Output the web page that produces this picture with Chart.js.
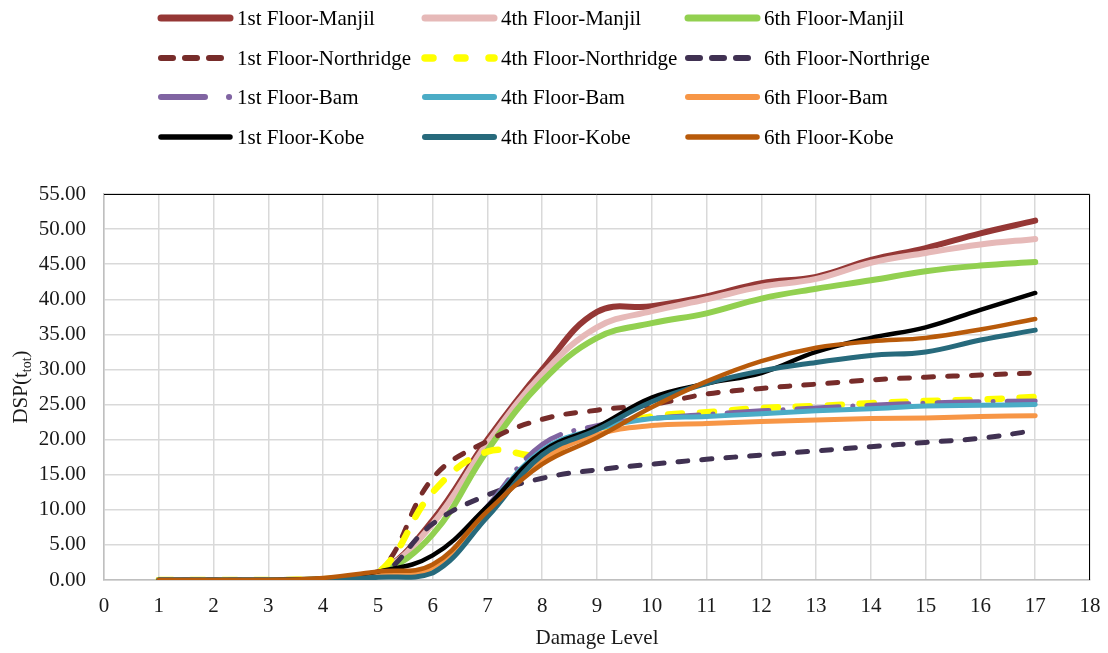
<!DOCTYPE html>
<html>
<head>
<meta charset="utf-8">
<script src="https://cdn.jsdelivr.net/npm/chart.js@4.4.1/dist/chart.umd.min.js"></script>
<style>
  html, body { margin: 0; padding: 0; background: #fff; }
  #zone { width: 1108px; height: 653px; }
</style>
</head>
<body>
<div id="zone"><canvas id="graphique" width="1108" height="653"></canvas></div>
<script>
// Niveaux de dommage (axe X)
const niveaux = [1, 2, 3, 4, 5, 6, 7, 8, 9, 10, 11, 12, 13, 14, 15, 16, 17];

// Valeurs DSP(t_tot) par séisme et par étage
const manjil1 = [0, 0, 0, 0.1, 1.0, 8.5, 20.0, 30.0, 38.2, 39.0, 40.4, 42.3, 43.2, 45.6, 47.3, 49.4, 51.2];
const manjil4 = [0, 0, 0, 0.1, 1.0, 8.0, 19.5, 29.3, 36.0, 38.3, 40.0, 41.8, 42.9, 45.2, 46.6, 47.8, 48.6];
const manjil6 = [0, 0, 0, 0.1, 0.9, 6.5, 18.5, 28.3, 34.5, 36.6, 38.0, 40.1, 41.5, 42.7, 44.0, 44.8, 45.3];

const northridge1 = [0, 0, 0, 0.1, 1.0, 14.5, 19.8, 22.9, 24.2, 25.0, 26.5, 27.3, 27.9, 28.5, 28.9, 29.2, 29.5];
const northridge4 = [0, 0, 0, 0.1, 1.0, 12.5, 18.3, 17.8, 21.3, 23.3, 23.9, 24.5, 24.8, 25.2, 25.5, 25.7, 26.1];
const northridge6 = [0, 0, 0, 0.05, 0.5, 8.0, 12.1, 14.5, 15.7, 16.5, 17.2, 17.8, 18.4, 19.0, 19.6, 20.2, 21.3];

const bam1 = [0, 0, 0, 0.1, 0.8, 1.6, 10.5, 19.3, 22.0, 23.0, 23.6, 24.1, 24.5, 24.9, 25.2, 25.4, 25.5];
const bam4 = [0, 0, 0, 0.1, 0.8, 1.5, 10.3, 18.5, 21.5, 23.0, 23.3, 23.7, 24.1, 24.4, 24.8, 24.9, 25.0];
const bam6 = [0, 0, 0, 0.1, 0.8, 1.8, 10.0, 17.1, 20.7, 22.0, 22.3, 22.6, 22.8, 23.0, 23.1, 23.3, 23.4];

const kobe1 = [0, 0, 0, 0.2, 1.2, 3.5, 10.5, 18.3, 21.8, 26.0, 28.0, 29.5, 32.5, 34.5, 36.0, 38.5, 40.9];
const kobe4 = [0, 0, 0, 0.05, 0.4, 1.0, 9.0, 17.8, 21.4, 25.4, 28.0, 29.8, 31.0, 32.0, 32.5, 34.2, 35.6];
const kobe6 = [0, 0, 0, 0.3, 1.2, 2.2, 9.8, 16.5, 20.3, 24.6, 28.3, 31.2, 33.1, 34.0, 34.5, 35.7, 37.2];

const police = "'Liberation Serif', 'Times New Roman', serif";
const couleurTexte = '#1a1a1a';

// Construire une série pour Chart.js
function serie(label, valeurs, couleur, epaisseur, tirets, tiretsLegende) {
    return {
        label: label,
        data: valeurs.map((v, i) => ({ x: niveaux[i], y: v })),
        borderColor: couleur,
        backgroundColor: couleur,
        borderWidth: epaisseur,
        borderDash: tirets || [],
        borderCapStyle: 'round',
        borderJoinStyle: 'round',
        legendDash: tiretsLegende || tirets || [],
        fill: false
    };
}

const series = [
    serie('1st Floor-Manjil', manjil1, '#953735', 6),
    serie('4th Floor-Manjil', manjil4, '#E6B9B8', 6),
    serie('6th Floor-Manjil', manjil6, '#92D050', 6),
    serie('1st Floor-Northridge', northridge1, '#772C2A', 5, [10, 14], [12, 12]),
    serie('4th Floor-Northridge', northridge4, '#FFFF00', 6.5, [14, 18], [8, 24]),
    serie('6th Floor-Northrige', northridge6, '#403152', 5, [10, 14], [12, 12]),
    serie('1st Floor-Bam', bam1, '#8064A2', 5, [42, 14, 0.1, 14], [44, 24, 0.1, 30]),
    serie('4th Floor-Bam', bam4, '#4BACC6', 5),
    serie('6th Floor-Bam', bam6, '#F79646', 5),
    serie('1st Floor-Kobe', kobe1, '#000000', 4.5),
    serie('4th Floor-Kobe', kobe4, '#276A7C', 5),
    serie('6th Floor-Kobe', kobe6, '#B85A0A', 4.5)
];
// comme dans Excel : la dernière série est dessinée au-dessus
series.forEach((s, i) => { s.order = series.length - i; });

// Légende sur 3 colonnes
const colonnesLegende = [158, 422, 685];
const lignesLegende = [18, 58, 97, 137];

const legendePlugin = {
    id: 'legende',
    afterDraw(chart) {
        const ctx = chart.ctx;
        chart.data.datasets.forEach((ds, i) => {
            const x = colonnesLegende[i % 3];
            const y = lignesLegende[Math.floor(i / 3)];
            ctx.save();
            ctx.strokeStyle = ds.borderColor;
            ctx.lineWidth = ds.borderWidth + 1;
            ctx.lineCap = 'round';
            ctx.setLineDash(ds.legendDash);
            ctx.beginPath();
            ctx.moveTo(x + 3, y);
            ctx.lineTo(x + 72, y);
            ctx.stroke();
            ctx.restore();
            ctx.save();
            ctx.fillStyle = '#000';
            ctx.font = '21px ' + police;
            ctx.textBaseline = 'middle';
            ctx.fillText(ds.label, x + 79, y + 1);
            ctx.restore();
        });
    }
};

// Cadre haut/droite noir + titre de l'axe Y avec indice
const cadrePlugin = {
    id: 'cadre',
    beforeDatasetsDraw(chart) {
        const a = chart.chartArea;
        const ctx = chart.ctx;
        ctx.save();
        ctx.strokeStyle = '#000';
        ctx.lineWidth = 1;
        ctx.beginPath();
        ctx.moveTo(a.left, a.top + 0.5);
        ctx.lineTo(a.right - 0.5, a.top + 0.5);
        ctx.lineTo(a.right - 0.5, a.bottom);
        ctx.stroke();
        ctx.restore();
    },
    afterDraw(chart) {
        const ctx = chart.ctx;
        const a = chart.chartArea;
        ctx.save();
        ctx.translate(27, (a.top + a.bottom) / 2);
        ctx.rotate(-Math.PI / 2);
        ctx.fillStyle = couleurTexte;
        ctx.textBaseline = 'alphabetic';
        const grand = '21px ' + police, petit = '14px ' + police;
        ctx.font = grand;
        const w1 = ctx.measureText('DSP(t').width;
        const w3 = ctx.measureText(')').width;
        ctx.font = petit;
        const w2 = ctx.measureText('tot').width;
        let x = -(w1 + w2 + w3) / 2;
        ctx.font = grand;
        ctx.fillText('DSP(t', x, 0);
        x += w1;
        ctx.font = petit;
        ctx.fillText('tot', x, 4);
        x += w2;
        ctx.font = grand;
        ctx.fillText(')', x, 0);
        ctx.restore();
    }
};

const ctx = document.getElementById('graphique').getContext('2d');
new Chart(ctx, {
    type: 'line',
    data: { datasets: series },
    options: {
        responsive: false,
        animation: false,
        layout: { padding: { top: 194, right: 18, left: 0, bottom: 0 } },
        elements: {
            point: { radius: 0, hoverRadius: 0 },
            line: { tension: 0.4 }
        },
        plugins: {
            legend: { display: false },
            tooltip: { enabled: false },
            title: { display: false }
        },
        scales: {
            x: {
                type: 'linear',
                min: 0,
                max: 18,
                ticks: { stepSize: 1, font: { family: police, size: 21 }, color: couleurTexte, padding: 14 },
                grid: { color: '#d9d9d9', lineWidth: 1.5, drawTicks: false },
                border: { color: '#bfbfbf', width: 1.5 },
                title: {
                    display: true,
                    text: 'Damage Level',
                    font: { family: police, size: 21 },
                    color: couleurTexte,
                    padding: { top: 0, bottom: 2 }
                },
                afterFit: s => { s.height = 73; s.paddingLeft = 0; s.paddingRight = 0; }
            },
            y: {
                min: 0,
                max: 55,
                ticks: {
                    stepSize: 5,
                    font: { family: police, size: 21 },
                    color: couleurTexte,
                    padding: 18,
                    callback: v => v.toFixed(2)
                },
                grid: { color: '#d9d9d9', lineWidth: 1.5, drawTicks: false },
                border: { color: '#bfbfbf', width: 1.5 },
                afterFit: s => { s.width = 104; }
            }
        }
    },
    plugins: [legendePlugin, cadrePlugin]
});
</script>
</body>
</html>
